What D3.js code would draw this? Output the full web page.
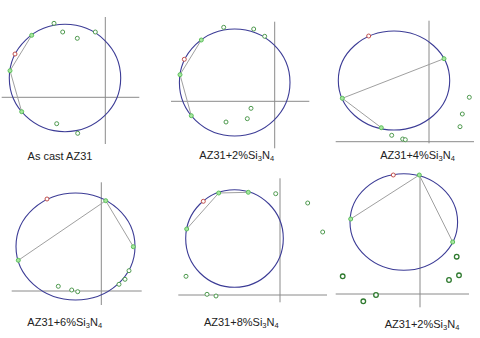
<!DOCTYPE html>
<html>
<head>
<meta charset="utf-8">
<title>Friction circles</title>
<script src="https://d3js.org/d3.v7.min.js"></script>
<style>
  body { margin: 0; background: #fff; }
  svg { display: block; }
</style>
</head>
<body>
<div id="chart"></div>
<script>
// panel data in local units (each panel is 160 x 169)
var labels = [
  ["As cast AZ31"],
  ["AZ31+2%Si", "3", "N", "4"],
  ["AZ31+4%Si", "3", "N", "4"],
  ["AZ31+6%Si", "3", "N", "4"],
  ["AZ31+8%Si", "3", "N", "4"],
  ["AZ31+2%Si", "3", "N", "4"]
];
var labelPos = [[60, 160], [76.7, 159], [97.5, 159], [64.7, 157], [81.3, 157], [102, 159]];

// ellipse centre and radii
var circles = [
  [65, 78, 55.7, 53.7],
  [74.7, 82.5, 55.3, 53.5],
  [74, 80.5, 55.7, 49.5],
  [75.5, 77.5, 59.5, 53.5],
  [74.5, 69.5, 48.8, 48.8],
  [83.8, 53, 53.8, 48.3]
];
// vertical axis: x, y0, y1 ; horizontal axis: y, x0, x1
var vAxes = [[105.3, 17, 144], [114.7, 21.7, 148.3], [109, 20.7, 143.3], [101.3, 13.3, 136], [120, 9.3, 133.3], [100, 6, 138.3]];
var hAxes = [[97.3, 1.7, 139.3], [101.3, 11, 149.3], [141.7, 15.7, 154], [122, 11.7, 141.7], [126, 18.3, 167], [125, 15.7, 149]];

var polys = [
  [[31.7, 35.3], [10, 70.7], [21.7, 111.7]],
  [[41.3, 40], [20, 74.7], [31.3, 115.7]],
  [[124, 58.7], [22.3, 98.3], [61.3, 127.7]],
  [[18.3, 91.3], [105.7, 31.7], [133.3, 77.7]],
  [[26.7, 60], [58.7, 24], [88.3, 23.3]],
  [[30.7, 50], [99.3, 6], [132.7, 73]]
];
var redPts = [[15, 54], [24.3, 59.3], [48.7, 36], [47, 30], [43.3, 32.3], [73.3, 6]];
var otherPts = [
  [[54, 23.3], [62.7, 32], [77.3, 38.3], [95.3, 32], [56.7, 123.7], [77.7, 133.3]],
  [[63.7, 27.3], [93.7, 29], [104.7, 36.3], [91, 108.3], [87.3, 118.7], [66, 122]],
  [[71.7, 135.3], [82.7, 139], [85.3, 139.7], [149.3, 97.3], [142.3, 114], [140, 126.7]],
  [[58.3, 117.3], [71.7, 121], [77.7, 122.7], [119, 115.3], [125, 110.3], [129, 101.7]],
  [[115.7, 24.7], [147.7, 34], [162.7, 63], [26, 107.3], [47, 125.3], [56, 127]],
  [[22.7, 107.3], [43.3, 132.3], [56, 126], [136.7, 87.7], [139, 106.3], [129, 111]]
];

var W = 480, H = 338, pw = 160, ph = 169;

var svg = d3.select("#chart").append("svg")
  .attr("width", W).attr("height", H);

labels.forEach(function(lab, i) {
  var col = i % 3, row = Math.floor(i / 3);
  var x = d3.scaleLinear().domain([0, pw]).range([col * pw, (col + 1) * pw]);
  var y = d3.scaleLinear().domain([0, ph]).range([row * ph, (row + 1) * ph]);
  var g = svg.append("g");
  var dark = i === 5;

  // axes
  var v = vAxes[i], h = hAxes[i];
  g.append("line").attr("x1", x(v[0])).attr("x2", x(v[0])).attr("y1", y(v[1])).attr("y2", y(v[2]))
    .attr("stroke", "#8a8a8a").attr("stroke-width", 1);
  g.append("line").attr("x1", x(h[1])).attr("x2", x(h[2])).attr("y1", y(h[0])).attr("y2", y(h[0]))
    .attr("stroke", "#8a8a8a").attr("stroke-width", 1);

  // fitted circle
  var c = circles[i];
  g.append("ellipse")
    .attr("cx", x(c[0])).attr("cy", y(c[1]))
    .attr("rx", x(c[2]) - x(0)).attr("ry", y(c[3]) - y(0))
    .attr("fill", "none").attr("stroke", "#3c3c96").attr("stroke-width", 1.1);

  // polygon
  g.append("path")
    .attr("d", d3.line().x(function(d) { return x(d[0]); }).y(function(d) { return y(d[1]); })(polys[i]))
    .attr("fill", "none").attr("stroke", "#a0a0a0").attr("stroke-width", 1);

  // scattered points
  g.selectAll(".pt").data(otherPts[i]).enter().append("circle")
    .attr("cx", function(d) { return x(d[0]); })
    .attr("cy", function(d) { return y(d[1]); })
    .attr("r", dark ? 2.3 : 2)
    .attr("fill", "#fff")
    .attr("stroke", dark ? "#2f7a2f" : "#4f9a4f")
    .attr("stroke-width", dark ? 1.3 : 1);

  // polygon vertices
  g.selectAll(".vx").data(polys[i]).enter().append("circle")
    .attr("cx", function(d) { return x(d[0]); })
    .attr("cy", function(d) { return y(d[1]); })
    .attr("r", 2)
    .attr("fill", "#a8e6a0")
    .attr("stroke", "#5cbf5c")
    .attr("stroke-width", 1);

  // red point
  g.append("circle")
    .attr("cx", x(redPts[i][0])).attr("cy", y(redPts[i][1]))
    .attr("r", 2).attr("fill", "#fff")
    .attr("stroke", "#c0504d").attr("stroke-width", 1);

  // label
  var t = g.append("text")
    .attr("x", x(labelPos[i][0])).attr("y", y(labelPos[i][1]))
    .attr("text-anchor", "middle")
    .attr("font-family", "'Liberation Sans', Arial, sans-serif")
    .attr("font-size", 11).attr("fill", "#222");
  t.append("tspan").text(lab[0]);
  if (lab.length > 1) {
    t.append("tspan").attr("font-size", 7.5).attr("dy", 2).text(lab[1]);
    t.append("tspan").attr("dy", -2).text(lab[2]);
    t.append("tspan").attr("font-size", 7.5).attr("dy", 2).text(lab[3]);
  }
});
</script>
</body>
</html>
